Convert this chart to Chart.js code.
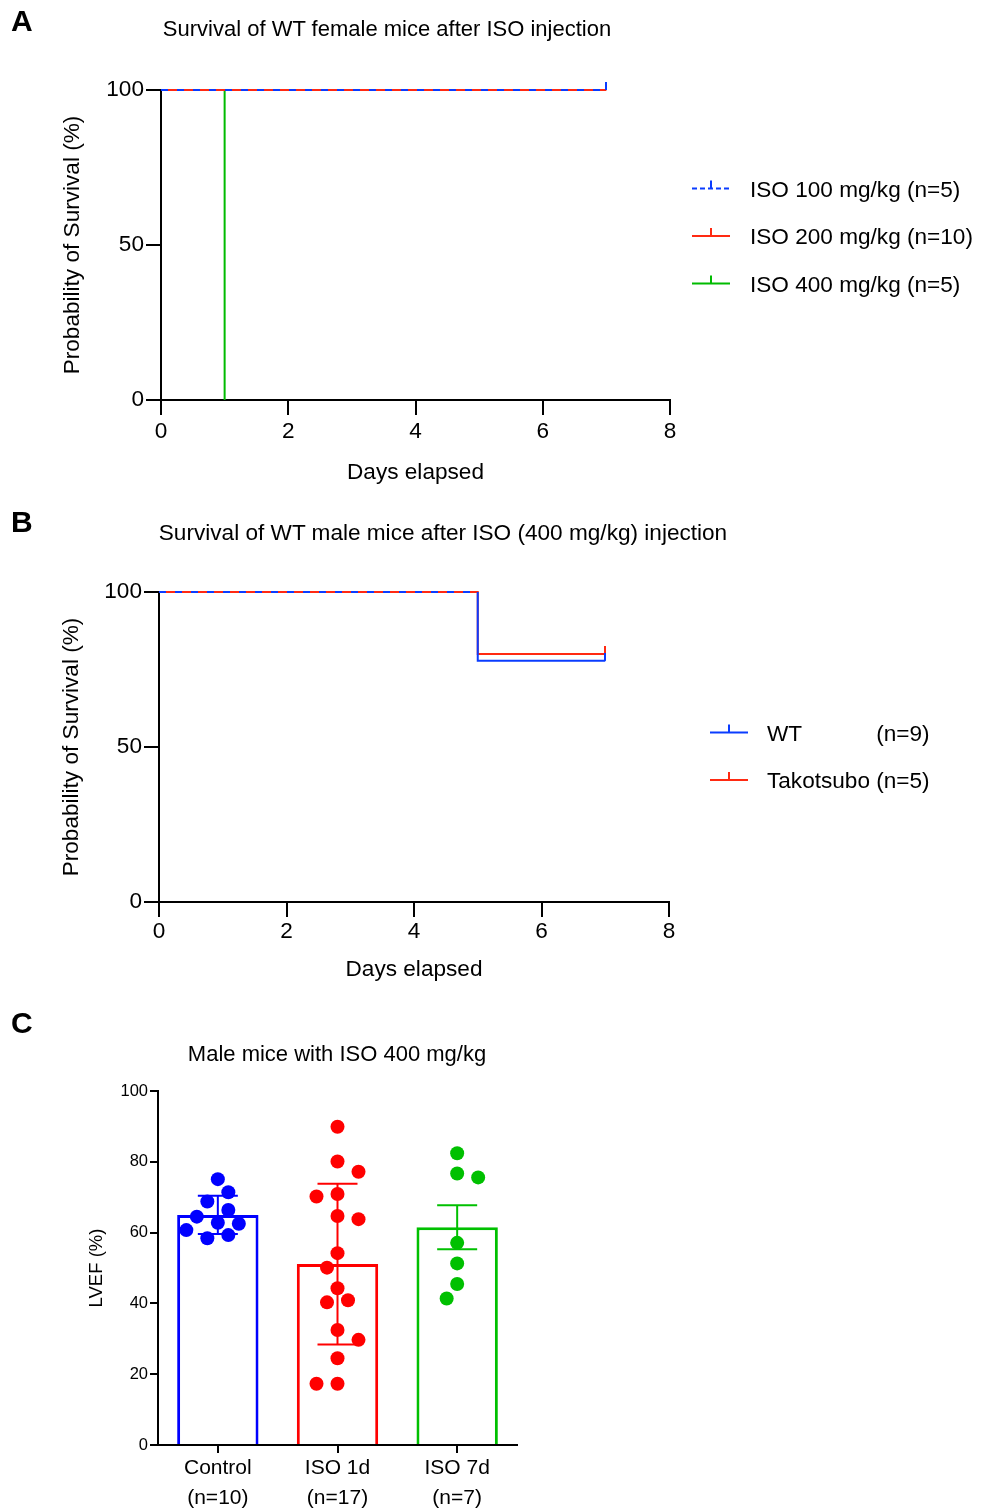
<!DOCTYPE html>
<html>
<head>
<meta charset="utf-8">
<script src="https://cdn.jsdelivr.net/npm/chart.js@4.4.0/dist/chart.umd.min.js"></script>
<style>
  html, body { margin: 0; padding: 0; background: #fff; }
  #wrap { position: relative; width: 985px; height: 1510px; overflow: hidden; font-family: 'Liberation Sans', Arial, Helvetica, sans-serif; color: #000; }
  canvas { position: absolute; left: 0; }
  .letter { position: absolute; font-weight: bold; font-size: 30px; line-height: 30px; }
  .title { position: absolute; font-size: 22px; line-height: 22px; white-space: nowrap; transform: translate(-50%, -50%); }
</style>
</head>
<body>
<div id="wrap">
  <canvas id="cA" width="985" height="500" style="top:0px"></canvas>
  <canvas id="cB" width="985" height="500" style="top:500px"></canvas>
  <canvas id="cC" width="600" height="510" style="top:1000px"></canvas>
  <div class="letter" style="left:11px;top:6px">A</div>
  <div class="letter" style="left:11px;top:507px">B</div>
  <div class="letter" style="left:11px;top:1008px">C</div>
  <div class="title" style="left:387px;top:29px">Survival of WT female mice after ISO injection</div>
  <div class="title" style="left:443px;top:533px;font-size:22.6px">Survival of WT male mice after ISO (400 mg/kg) injection</div>
  <div class="title" style="left:337px;top:1054px">Male mice with ISO 400 mg/kg</div>
</div>
<script>
// ---------------- DATA ----------------
// Panel A: Kaplan-Meier, WT female mice
const seriesLabelsA = ['ISO 100 mg/kg (n=5)', 'ISO 200 mg/kg (n=10)', 'ISO 400 mg/kg (n=5)'];
const iso100Days = [0, 7];
const iso100Surv = [100, 100];
const iso100Censor = [false, true];
const iso200Days = [0, 7];
const iso200Surv = [100, 100];
const iso200Censor = [false, true];
const iso400Days = [0, 1];
const iso400Surv = [100, 0];
const iso400Censor = [false, false];

// Panel B: Kaplan-Meier, WT male mice ISO 400 mg/kg
const seriesLabelsB = ['WT (n=9)', 'Takotsubo (n=5)'];
const wtDays = [0, 5, 5, 7];
const wtSurv = [100, 100, 77.8, 77.8];
const wtCensor = [false, false, false, true];
const takoDays = [0, 5, 5, 7];
const takoSurv = [100, 100, 80, 80];
const takoCensor = [false, false, false, true];

// Shared KM axis ticks
const dayTickStep = 2;
const survTickStep = 50;

// Panel C: LVEF
const groupLabels = [['Control', '(n=10)'], ['ISO 1d', '(n=17)'], ['ISO 7d', '(n=7)']];
const controlLVEF = [75.1, 71.4, 68.8, 66.4, 64.5, 62.8, 62.5, 60.7, 59.3, 58.4];
const iso1dLVEF = [89.9, 80.1, 77.2, 70.9, 70.2, 64.7, 63.8, 54.2, 50.1, 44.3, 40.9, 40.3, 32.5, 29.7, 24.5, 17.3, 17.3];
const iso7dLVEF = [82.4, 76.7, 75.6, 57.1, 51.3, 45.5, 41.4];
const groupMeans = [65.0, 51.1, 61.5];
const groupErrors = [5.4, 22.7, 6.2];
const lvefTickStep = 20;

// ---------------- STYLE ----------------
const FONT = "'Liberation Sans', Arial, Helvetica, sans-serif";
Chart.defaults.font.family = FONT;
Chart.defaults.color = '#000';
Chart.defaults.animation = false;

const KM_BLUE = '#0a3cff';
const KM_RED = '#ff2a12';
const KM_GREEN = '#00bb00';
const C_BLUE = '#0000ff';
const C_RED = '#ff0000';
const C_GREEN = '#00c000';
const DASH = [7, 9];
const KM_FONT = 22.6;

function censorMark(color) {
  const c = document.createElement('canvas');
  c.width = 2; c.height = 16;
  const g = c.getContext('2d');
  g.fillStyle = color;
  g.fillRect(0, 0, 2, 8);
  return c;
}
function toXY(xs, ys) { return xs.map((x, i) => ({ x: x, y: ys[i] })); }

function kmDataset(label, days, surv, censor, color, extra) {
  return Object.assign({
    label: label,
    data: toXY(days, surv),
    borderColor: color,
    backgroundColor: color,
    borderWidth: 2,
    stepped: true,
    fill: false,
    clip: false,
    pointStyle: censorMark(color),
    pointRadius: censor.map(c => c ? 4 : 0),
    pointHoverRadius: 0,
    pointBorderWidth: 0
  }, extra || {});
}

const kmLegend = {
  id: 'kmLegend',
  afterDraw(chart, args, opts) {
    const ctx = chart.ctx;
    const items = chart.data.datasets.map((ds, i) => ({
      text: ds.label, color: ds.borderColor, dash: (opts.dashes && opts.dashes[i]) || []
    }));
    ctx.save();
    ctx.font = opts.fontSize + 'px ' + FONT;
    ctx.textBaseline = 'middle';
    ctx.lineWidth = 2;
    const textX = opts.x + opts.symbolWidth + opts.gap;
    let maxW = 0;
    items.forEach(it => { maxW = Math.max(maxW, ctx.measureText(it.text).width); });
    items.forEach((it, i) => {
      const y = opts.y + i * opts.spacing;
      ctx.strokeStyle = it.color;
      ctx.setLineDash(it.dash);
      ctx.beginPath(); ctx.moveTo(opts.x, y); ctx.lineTo(opts.x + opts.symbolWidth, y); ctx.stroke();
      ctx.setLineDash([]);
      const cx = opts.x + opts.symbolWidth / 2;
      ctx.beginPath(); ctx.moveTo(cx, y); ctx.lineTo(cx, y - opts.tick); ctx.stroke();
      ctx.fillStyle = '#000';
      const ty = y + opts.textDy;
      if (opts.alignCounts) {
        const cut = it.text.lastIndexOf(' ');
        ctx.textAlign = 'left';
        ctx.fillText(it.text.slice(0, cut), textX, ty);
        ctx.textAlign = 'right';
        ctx.fillText(it.text.slice(cut + 1), textX + maxW, ty);
      } else {
        ctx.textAlign = 'left';
        ctx.fillText(it.text, textX, ty);
      }
    });
    ctx.restore();
  }
};

function kmScales(yAxisWidth, xAxisHeight, tickPadX, titlePadBottom, yTitlePadTop) {
  const gridOpts = { drawOnChartArea: false, drawTicks: true, tickLength: 15, color: '#000', lineWidth: 2 };
  return {
    x: {
      type: 'linear', min: 0, max: 8,
      ticks: { stepSize: dayTickStep, padding: tickPadX, font: { size: KM_FONT }, color: '#000' },
      grid: gridOpts,
      border: { display: true, color: '#000', width: 2 },
      title: { display: true, text: 'Days elapsed', font: { size: KM_FONT }, color: '#000', padding: { top: 0, bottom: titlePadBottom } },
      afterFit: s => { s.height = xAxisHeight; }
    },
    y: {
      type: 'linear', min: 0, max: 100,
      ticks: { stepSize: survTickStep, padding: 2, font: { size: KM_FONT }, color: '#000' },
      grid: gridOpts,
      border: { display: true, color: '#000', width: 2 },
      title: { display: true, text: 'Probability of Survival (%)', font: { size: KM_FONT }, color: '#000', padding: { top: yTitlePadTop, bottom: 0 } },
      afterFit: s => { s.width = yAxisWidth; }
    }
  };
}

// ---------------- PANEL A ----------------
new Chart(document.getElementById('cA'), {
  type: 'line',
  data: {
    datasets: [
      kmDataset(seriesLabelsA[0], iso100Days, iso100Surv, iso100Censor, KM_BLUE, { borderDash: DASH }),
      kmDataset(seriesLabelsA[1], iso200Days, iso200Surv, iso200Censor, KM_RED),
      kmDataset(seriesLabelsA[2], iso400Days, iso400Surv, iso400Censor, KM_GREEN)
    ]
  },
  options: {
    responsive: false,
    devicePixelRatio: 1,
    events: [],
    layout: { padding: { top: 90, right: 315, bottom: 0, left: 0 } },
    scales: kmScales(161, 100, 3, 14, 59),
    plugins: {
      legend: { display: false },
      tooltip: { enabled: false },
      kmLegend: { x: 692, y: 188.5, spacing: 47.5, symbolWidth: 38, gap: 20, tick: 8, fontSize: KM_FONT, textDy: 2, dashes: [[5, 3], null, null], alignCounts: false }
    }
  },
  plugins: [kmLegend]
});

// ---------------- PANEL B ----------------
new Chart(document.getElementById('cB'), {
  type: 'line',
  data: {
    datasets: [
      kmDataset(seriesLabelsB[0], wtDays, wtSurv, wtCensor, KM_BLUE, {
        segment: { borderDash: ctx => ctx.p0DataIndex === 0 ? DASH : [] }
      }),
      kmDataset(seriesLabelsB[1], takoDays, takoSurv, takoCensor, KM_RED)
    ]
  },
  options: {
    responsive: false,
    devicePixelRatio: 1,
    events: [],
    layout: { padding: { top: 92, right: 316, bottom: 0, left: 0 } },
    scales: kmScales(159, 98, 1, 17, 58),
    plugins: {
      legend: { display: false },
      tooltip: { enabled: false },
      kmLegend: { x: 710, y: 232.5, spacing: 47.5, symbolWidth: 38, gap: 19, tick: 8, fontSize: KM_FONT, textDy: 2, dashes: null, alignCounts: true }
    }
  },
  plugins: [kmLegend]
});

// ---------------- PANEL C ----------------
const groupValues = [controlLVEF, iso1dLVEF, iso7dLVEF];
const groupColors = [C_BLUE, C_RED, C_GREEN];

const errorDatasets = groupMeans.map((m, i) => ({
  type: 'line',
  xAxisID: 'xs',
  data: [{ x: i, y: m - groupErrors[i] }, { x: i, y: m + groupErrors[i] }],
  borderColor: groupColors[i],
  borderWidth: 2,
  pointStyle: 'line',
  pointRadius: 20,
  pointHoverRadius: 20,
  pointBorderColor: groupColors[i],
  pointBorderWidth: 2,
  fill: false,
  order: 2
}));
const dotDatasets = groupValues.map((vals, i) => ({
  type: 'scatter',
  xAxisID: 'xs',
  data: vals.map(v => ({ x: i, y: v })),
  backgroundColor: groupColors[i],
  borderWidth: 0,
  pointRadius: 7,
  pointHoverRadius: 7,
  order: 1
}));

const chartC = new Chart(document.getElementById('cC'), {
  type: 'bar',
  data: {
    labels: groupLabels,
    datasets: [
      {
        type: 'bar',
        xAxisID: 'x',
        data: groupMeans,
        backgroundColor: '#ffffff',
        borderColor: groupColors,
        borderWidth: 3,
        grouped: false,
        barPercentage: 0.68,
        categoryPercentage: 1,
        order: 3
      },
      ...errorDatasets,
      ...dotDatasets
    ]
  },
  options: {
    responsive: false,
    devicePixelRatio: 1,
    events: [],
    layout: { padding: { top: 91, right: 83, bottom: 0, left: 0 } },
    scales: {
      x: {
        type: 'category',
        offset: true,
        ticks: { padding: 0, font: { size: 21, lineHeight: 1.43 }, color: '#000', maxRotation: 0 },
        grid: { offset: false, drawOnChartArea: false, drawTicks: true, tickLength: 8, color: '#000', lineWidth: 2 },
        border: { display: true, color: '#000', width: 2 },
        afterFit: s => { s.height = 65; }
      },
      xs: { type: 'linear', display: false, min: -0.5, max: 2.5, offset: false },
      y: {
        type: 'linear', min: 0, max: 100,
        ticks: { stepSize: lvefTickStep, padding: 2, font: { size: 16.5 }, color: '#000' },
        grid: { drawOnChartArea: false, drawTicks: true, tickLength: 8, color: '#000', lineWidth: 2 },
        border: { display: true, color: '#000', width: 2 },
        title: { display: true, text: 'LVEF (%)', font: { size: 18.5 }, color: '#000', padding: { top: 86, bottom: 0 } },
        afterFit: s => { s.width = 158; }
      }
    },
    plugins: { legend: { display: false }, tooltip: { enabled: false } }
  }
});

// Column-scatter spreading, computed from the chart's own scales
(function spreadDots(chart) {
  const ys = chart.scales.y, xs = chart.scales.xs;
  const pxPerUnit = xs.getPixelForValue(1) - xs.getPixelForValue(0);
  const STEP = 10.5, RX = 14, RY = 17;
  const firstDot = 1 + errorDatasets.length;
  groupValues.forEach((vals, gi) => {
    const order = vals.map((v, i) => i).sort((a, b) => vals[b] - vals[a]);
    const placed = [];
    const offs = new Array(vals.length).fill(0);
    let pref = 1;
    const free = (cx, py) => placed.every(p => {
      const dx = (p.x - cx) / RX, dy = (p.y - py) / RY;
      return dx * dx + dy * dy >= 1;
    });
    order.forEach(i => {
      const py = ys.getPixelForValue(vals[i]);
      let chosen = null;
      if (free(0, py)) chosen = 0;
      for (let k = 1; chosen === null && k < 20; k++) {
        const a = pref * k * STEP, b = -pref * k * STEP;
        if (free(a, py)) chosen = a; else if (free(b, py)) chosen = b;
      }
      if (chosen !== 0) pref = chosen > 0 ? -1 : 1;
      offs[i] = chosen;
      placed.push({ x: chosen, y: py });
    });
    chart.data.datasets[firstDot + gi].data = vals.map((v, i) => ({ x: gi + offs[i] / pxPerUnit, y: v }));
  });
  chart.update('none');
})(chartC);
</script>
</body>
</html>
